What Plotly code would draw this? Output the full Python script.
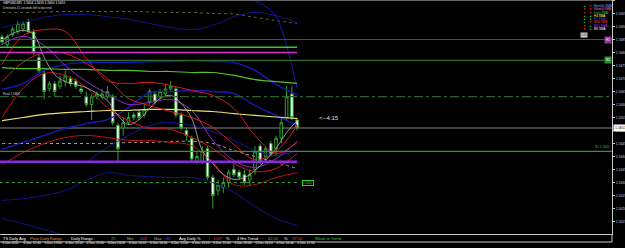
import plotly.graph_objects as go

# ---------------- data ----------------
open_ = [1.5686,1.5683,1.5687,1.5688,1.5689,1.5692,1.5688,1.5678,1.5672,1.5666,
         1.5668,1.5667,1.5669,1.5670,1.5669,1.5666,1.5663,1.5660,1.5663,1.5663,
         1.5663,1.5663,1.5652,1.5651,1.5653,1.5656,1.5657,1.5656,1.5661,1.5664,
         1.5663,1.5664,1.5666,1.5666,1.5656,1.5650,1.5647,1.5638,1.5638,1.5643,
         1.5632,1.5627,1.5628,1.5630,1.5635,1.5634,1.5633,1.5631,1.5635,1.5644,
         1.5640,1.5645,1.5643,1.5647,1.5655,1.5664,1.5654]
high = [1.5687,1.5687,1.5690,1.5692,1.5692,1.5693,1.5689,1.5680,1.5673,1.5669,
        1.5669,1.5671,1.5673,1.5671,1.5670,1.5667,1.5665,1.5664,1.5665,1.5666,
        1.5667,1.5664,1.5653,1.5655,1.5657,1.5657,1.5658,1.5660,1.5666,1.5665,
        1.5666,1.5668,1.5669,1.5667,1.5657,1.5651,1.5648,1.5642,1.5644,1.5644,
        1.5633,1.5631,1.5632,1.5635,1.5637,1.5635,1.5635,1.5635,1.5644,1.5645,
        1.5644,1.5646,1.5648,1.5655,1.5667,1.5667,1.5655]
low = [1.5683,1.5682,1.5686,1.5687,1.5688,1.5687,1.5679,1.5672,1.5662,1.5665,
       1.5663,1.5666,1.5667,1.5667,1.5666,1.5664,1.5659,1.5654,1.5662,1.5662,
       1.5662,1.5652,1.5638,1.5648,1.5652,1.5654,1.5654,1.5655,1.5660,1.5660,
       1.5662,1.5663,1.5665,1.5655,1.5650,1.5646,1.5638,1.5637,1.5637,1.5631,
       1.5620,1.5625,1.5626,1.5628,1.5632,1.5631,1.5629,1.5629,1.5633,1.5637,
       1.5638,1.5640,1.5640,1.5645,1.5654,1.5654,1.5650]
close = [1.5684,1.5686,1.5689,1.5691,1.5691,1.5688,1.5680,1.5673,1.5665,1.5668,
         1.5665,1.5669,1.5671,1.5668,1.5667,1.5665,1.5660,1.5663,1.5664,1.5664,
         1.5665,1.5653,1.5643,1.5653,1.5655,1.5655,1.5655,1.5658,1.5665,1.5661,
         1.5665,1.5666,1.5667,1.5656,1.5651,1.5648,1.5639,1.5640,1.5642,1.5632,
         1.5625,1.5629,1.5630,1.5634,1.5633,1.5632,1.5630,1.5633,1.5642,1.5638,
         1.5643,1.5641,1.5647,1.5653,1.5663,1.5655,1.5651]

tick_bars = list(range(0, 57, 4))
tick_text = ["6 Dec 2011", "6 Dec 12:40", "6 Dec 13:00", "6 Dec 13:20", "6 Dec 13:40",
             "6 Dec 14:00", "6 Dec 14:20", "6 Dec 14:40", "6 Dec 15:00", "6 Dec 15:20",
             "6 Dec 15:40", "6 Dec 16:00", "6 Dec 16:20", "6 Dec 16:40", "6 Dec 17:00"]

price_ticks = [round(1.5610 + 0.0005 * k, 4) for k in range(19)]

ma_bars = list(range(0, 57, 4))
red1 = [1.56754,1.56865,1.56888,1.56881,1.56777,1.56692,1.56681,1.56685,1.56673,1.56654,1.56635,1.56585,1.56481,1.56412,1.56454]
red2 = [1.56688,1.56762,1.56800,1.56796,1.56758,1.56700,1.56623,1.56596,1.56573,1.56550,1.56512,1.56446,1.56388,1.56419,1.56519]
red3 = [1.56550,1.56662,1.56719,1.56712,1.56665,1.56588,1.56538,1.56508,1.56504,1.56473,1.56431,1.56373,1.56342,1.56354,1.56412]
red4 = [1.56369,1.56415,1.56450,1.56473,1.56481,1.56473,1.56462,1.56462,1.56454,1.56442,1.56377,1.56292,1.56292,1.56319,1.56338]
blue1 = [1.56896,1.56915,1.56935,1.56946,1.56946,1.56938,1.56927,1.56912,1.56896,1.56888,1.56904,1.56938,1.56954,1.56942,1.56915]
blue2 = [1.56658,1.56681,1.56731,1.56754,1.56762,1.56762,1.56762,1.56765,1.56765,1.56769,1.56765,1.56762,1.56731,1.56677,1.56638]
blue3 = [1.56427,1.56454,1.56481,1.56508,1.56527,1.56542,1.56588,1.56646,1.56650,1.56654,1.56650,1.56642,1.56596,1.56558,1.56519]
blue4 = [1.56231,1.56238,1.56250,1.56269,1.56308,1.56338,1.56327,1.56323,1.56319,1.56319,1.56300,1.56262,1.56208,1.56162,1.56135]
blue5_bars = [0, 4, 8, 12, 16]
blue5 = [1.56162,1.56142,1.56119,1.56096,1.56065]
blue6_bars = list(range(16, 57, 4))
blue6 = [1.56377,1.56435,1.56481,1.56519,1.56531,1.56519,1.56496,1.56462,1.56423,1.56404,1.56423]
blue7_bars = [46, 48, 50, 52, 54, 56]
blue7 = [1.57038,1.57000,1.56977,1.56938,1.56827,1.56662]
green_ma = [1.56742,1.56738,1.56738,1.56735,1.56735,1.56731,1.56731,1.56727,1.56727,1.56723,1.56723,1.56712,1.56696,1.56688,1.56681]
olive_top = [1.56954,1.56954,1.56956,1.56958,1.56958,1.56958,1.56958,1.56956,1.56954,1.56954,1.56950,1.56948,1.56935,1.56923,1.56912]
yellow_ma = [1.56538,1.56550,1.56562,1.56569,1.56573,1.56577,1.56577,1.56581,1.56581,1.56577,1.56573,1.56565,1.56558,1.56552,1.56546]
tan_dotted = [1.56450,1.56450,1.56450,1.56450,1.56450,1.56450,1.56454,1.56454,1.56458,1.56458,1.56450,1.56423,1.56400,1.56377,1.56354]
purple_ma = [1.56831,1.56862,1.56827,1.56750,1.56688,1.56642,1.56600,1.56608,1.56619,1.56577,1.56462,1.56385,1.56358,1.56392,1.56458]
white_bars = list(range(0, 57, 2))
white_ma = [1.56846,1.56873,1.56885,1.56869,1.56781,1.56715,1.56688,1.56677,1.56665,1.56642,
            1.56615,1.56558,1.56523,1.56542,1.56585,1.56623,1.56635,1.56604,1.56546,1.56423,
            1.56373,1.56331,1.56312,1.56319,1.56346,1.56385,1.56431,1.56492,1.56538]

# horizontal levels
full_levels = [1.5685, 1.5677, 1.5663, 1.5642]          # purple R, green, pivot (dash-dot), S1
full_colors = ["#7d2a7d", "#2f6b2f", "#2f5f2f", "#3a8f3a"]
full_dash = ["solid", "solid", "dashdot", "solid"]
bar_levels = [1.5682, 1.5680, 1.5638, 1.5630]
bar_colors = ["#33cc33", "#cc33cc", "#8a2be2", "#3a9a3a"]
bar_widths = [1.5, 1.5, 2.5, 1]
bar_dash = ["solid", "solid", "solid", "dot"]

legend_names = ["Monthly SMA", "Weekly SMA", "Daily SMA", "H4 SMA", "H1 SMA", "M30 SMA", "M15 SMA", "M5 SMA"]
legend_colors = ["#6fa8ff", "#ff66cc", "#33cc33", "#ffff66", "#4040ff", "#ff3333", "#a040ff", "#ffffff"]
legend_sig1 = ["#33cc33", "#ff3333", "#ff3333", "#33cc33", "#33cc33", "#33cc33", "#ff3333", "#ff3333"]
legend_sig2 = ["#ff3333", "#ff3333", "#ff3333", "#33cc33", "#33cc33", "#ff3333", "#33cc33", "#33cc33"]

# ---------------- layout helpers ----------------
W, H = 625, 248
MR, MB = 13, 14
PW, PH = W - MR, H - MB
BAR_PX = 5.27
X0_PX = 2.0
FONT = "Liberation Sans, Arial, sans-serif"
GREEN = "#2f9e2f"

def px(x):
    return x / PW

def py(y):
    return (PH - y) / PH

fig = go.Figure()

fig.add_trace(go.Candlestick(
    x=list(range(len(close))), open=open_, high=high, low=low, close=close,
    increasing=dict(line=dict(color=GREEN, width=1), fillcolor="black"),
    decreasing=dict(line=dict(color=GREEN, width=1), fillcolor="white"),
    whiskerwidth=0, showlegend=False, hoverinfo="skip"))

def curve(xs, ys, color, width=1.0, dash="solid"):
    fig.add_trace(go.Scatter(x=xs, y=ys, mode="lines",
                             line=dict(color=color, width=width, dash=dash, shape="spline", smoothing=1.0),
                             showlegend=False, hoverinfo="skip"))

curve(ma_bars, olive_top, "#56682a", 1, "dot")
curve(ma_bars, blue1, "#14148a", 1)
curve(blue7_bars, blue7, "#1a1ab0", 1)
curve(ma_bars, blue2, "#1a1ac0", 1.3)
curve(ma_bars, blue3, "#1a1ac0", 1.3)
curve(blue6_bars, blue6, "#1616a0", 1)
curve(ma_bars, blue4, "#14148a", 1)
curve(blue5_bars, blue5, "#14148a", 1)
curve(ma_bars, green_ma, "#55c02a", 1.2)
curve(ma_bars, yellow_ma, "#e8e070", 1.2)
curve(ma_bars, tan_dotted, "#a8a070", 1, "dot")
curve(ma_bars, red1, "#e01818", 1)
curve(ma_bars, red2, "#e01818", 1)
curve(ma_bars, red3, "#d01515", 1)
curve(ma_bars, red4, "#c01212", 1)
curve(ma_bars, purple_ma, "#9030d0", 1)
curve(white_bars, white_ma, "#b8b8b8", 0.8)

shapes = []
for lv, c, d in zip(full_levels, full_colors, full_dash):
    shapes.append(dict(type="line", xref="paper", x0=0, x1=1, yref="y", y0=lv, y1=lv,
                       line=dict(color=c, width=1.2, dash=d), layer="above"))
last_bar = len(close) - 1
for lv, c, w, d in zip(bar_levels, bar_colors, bar_widths, bar_dash):
    shapes.append(dict(type="line", xref="x", x0=-0.4, x1=last_bar, yref="y", y0=lv, y1=lv,
                       line=dict(color=c, width=w, dash=d), layer="above"))
# bid line
shapes.append(dict(type="line", xref="paper", x0=0, x1=1, yref="y", y0=close[-1], y1=close[-1],
                   line=dict(color="#5a5a5a", width=1.5), layer="below"))
# frame lines
shapes.append(dict(type="line", xref="paper", yref="paper", x0=0, x1=1, y0=1, y1=1,
                   line=dict(color="#8a8a8a", width=1.5)))
shapes.append(dict(type="line", xref="paper", yref="paper", x0=0, x1=1, y0=py(242), y1=py(242),
                   line=dict(color="#c8c8c8", width=1)))
shapes.append(dict(type="line", xref="paper", yref="paper", x0=1, x1=1, y0=py(242), y1=0,
                   line=dict(color="#c8c8c8", width=1)))

ann = []

def text(x, y, s, color="#ffffff", size=3.5, xanchor="left", bg=None, border=None):
    d = dict(xref="paper", yref="paper", x=px(x), y=py(y), text=s, showarrow=False,
             xanchor=xanchor, yanchor="middle", font=dict(family=FONT, size=size, color=color),
             borderpad=0)
    if bg:
        d["bgcolor"] = bg
    if border:
        d["bordercolor"] = border
        d["borderwidth"] = 1
    ann.append(d)

text(2, 3.5, "GBPUSD,M5  %.4f %.4f %.4f %.4f" % (open_[-1], high[-1], low[-1], close[-1]), size=3.2)
text(2, 8, "4 minutes 15 seconds left to bar end", size=3.0, color="#dddddd")
text(318, 118, "<--4:15", size=6, color="#e0e0d0")
text(2, 94, "Pivot 1.5663", size=3, color="#dddddd")

# legend block
for k, (nm, c, s1, s2) in enumerate(zip(legend_names, legend_colors, legend_sig1, legend_sig2)):
    yy = 6 + k * 3.3
    text(582, yy, "▲" if s1 == "#33cc33" else "▼", color=s1, size=3)
    text(588, yy, "▲" if s2 == "#33cc33" else "▼", color=s2, size=3)
    text(593, yy, nm, color=c, size=3)
text(580, 35, "0.00", color="#222222", size=3, bg="#d0d0d0")

# right labels
ann.append(dict(xref="paper", yref="y", x=1, y=full_levels[0], text="R1", showarrow=False,
                xanchor="right", yanchor="middle", bgcolor="#993399",
                font=dict(family=FONT, size=3, color="#ffffff")))
ann.append(dict(xref="paper", yref="y", x=1, y=full_levels[1], text="R2", showarrow=False,
                xanchor="right", yanchor="middle", bgcolor="#2e8b2e",
                font=dict(family=FONT, size=3, color="#ffffff")))
ann.append(dict(xref="paper", yref="y", x=1, y=full_levels[3], text="S1 %.4f" % full_levels[3],
                showarrow=False, xanchor="right", yanchor="bottom",
                font=dict(family=FONT, size=3.2, color="#3fbf3f")))
ann.append(dict(xref="paper", yref="y", x=1.002, y=close[-1], text="%.4f" % close[-1], showarrow=False,
                xanchor="left", yanchor="middle", bgcolor="#ffffff",
                font=dict(family=FONT, size=3.6, color="#000000")))
ann.append(dict(xref="x", yref="y", x=last_bar + 1.0, y=bar_levels[3], text="%.4f" % bar_levels[3],
                showarrow=False, xanchor="left", yanchor="middle", bordercolor="#33cc33",
                borderwidth=1, borderpad=0, font=dict(family=FONT, size=3, color="#33cc33")))

# info bar
yb = 238
text(2, yb, "TS Daily Avg", color="#ffffff", size=4)
text(29, yb, "Pivot Daily Range", color="#e09040", size=4)
text(70, yb, "Daily Range :", color="#ffffff", size=4)
text(110, yb, "72", color="#33cc33", size=4)
text(126, yb, "Min", color="#aaaaaa", size=4)
text(139, yb, "103", color="#cc33cc", size=4)
text(153, yb, "Max", color="#aaaaaa", size=4)
text(165, yb, "86", color="#4444ff", size=4)
text(178, yb, "Avg Daily %", color="#ffffff", size=4)
text(208, yb, ":", color="#ffffff", size=4)
text(213, yb, "0.67", color="#ff3333", size=4)
text(225, yb, "%", color="#ffffff", size=4)
text(236, yb, "4 Hrs Trend", color="#ffffff", size=4)
text(261, yb, ":", color="#ffffff", size=4)
text(267, yb, "62.50", color="#33cc33", size=4)
text(283, yb, "%", color="#ffffff", size=4)
text(291, yb, "37.50", color="#ff3333", size=4)
text(314, yb, "Weak to Trend", color="#33cc33", size=4)

x_lo = -X0_PX / BAR_PX
x_hi = (PW - X0_PX) / BAR_PX
y_hi = 1.5700 + 0.5 / 26000
y_lo = y_hi - PH / 26000

fig.update_layout(
    width=W, height=H, margin=dict(l=0, r=MR, t=0, b=MB),
    paper_bgcolor="black", plot_bgcolor="black", showlegend=False,
    shapes=shapes, annotations=ann,
    font=dict(family=FONT, color="#ffffff"),
    xaxis=dict(range=[x_lo, x_hi], rangeslider=dict(visible=False), showgrid=False, zeroline=False,
               tickvals=tick_bars, ticktext=tick_text, tickfont=dict(size=3.2, color="#ffffff"),
               tickangle=0, ticklabelposition="outside right", ticklabelstandoff=5, ticks="",
               showline=True, linecolor="#c8c8c8", linewidth=1, automargin=False),
    yaxis=dict(range=[y_lo, y_hi], side="right", showgrid=False, zeroline=False,
               tickvals=price_ticks, ticktext=["%.4f" % v for v in price_ticks],
               tickfont=dict(size=3.4, color="#cccccc"), ticks="outside", ticklen=2,
               tickcolor="#cccccc", showline=True, linecolor="#c8c8c8", linewidth=1,
               automargin=False),
)

fig.write_html("out.html")
